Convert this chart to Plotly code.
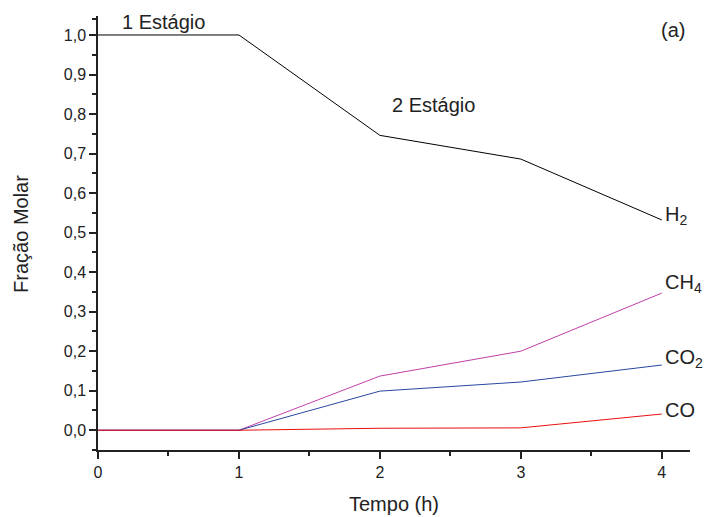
import plotly.graph_objects as go

tempo = [0, 1, 2, 3, 4]
h2 = [1.0, 1.0, 0.746, 0.686, 0.532]
ch4 = [0.0, 0.0, 0.137, 0.200, 0.347]
co2 = [0.0, 0.0, 0.099, 0.122, 0.165]
co = [0.0, 0.0, 0.005, 0.006, 0.041]

series = [
    ("H<sub>2</sub>", h2, "#000000", 4),
    ("CH<sub>4</sub>", ch4, "#c040a8", 10),
    ("CO<sub>2</sub>", co2, "#2848a0", 7),
    ("CO", co, "#e81010", 4),
]

FAM = "Liberation Sans"
TXT = "#222222"
font = dict(family=FAM, size=20, color=TXT)

fig = go.Figure()
for name, ys, color, _ in series:
    fig.add_trace(go.Scatter(x=tempo, y=ys, mode="lines", name=name,
                             line=dict(color=color, width=1), cliponaxis=False))

for name, ys, color, dy in series:
    fig.add_annotation(x=tempo[-1], y=ys[-1], text=name, showarrow=False,
                       xanchor="left", yanchor="middle", xshift=1, yshift=dy, font=font)

fig.add_annotation(x=0.155, y=1.033, text="1 Estágio", showarrow=False,
                   xanchor="left", yanchor="middle", font=font)
fig.add_annotation(x=2.07, y=0.823, text="2 Estágio", showarrow=False,
                   xanchor="left", yanchor="middle", font=font)
fig.add_annotation(x=4.18, y=1.013, text="(a)", showarrow=False,
                   xanchor="right", yanchor="middle", font=font)

fig.add_annotation(xref="paper", yref="paper", x=0.5, y=-0.124, text="Tempo (h)",
                   showarrow=False, xanchor="center", yanchor="middle", font=font)
fig.add_annotation(xref="paper", yref="paper", x=-0.130, y=0.498, text="Fração Molar",
                   showarrow=False, xanchor="center", yanchor="middle", textangle=-90,
                   font=font)

axis_common = dict(showline=True, linecolor=TXT, linewidth=1.5,
                   ticks="outside", tickcolor=TXT, tickwidth=1.5, ticklen=7,
                   showgrid=False, zeroline=False, mirror=False, automargin=False,
                   tickfont=dict(family=FAM, size=16, color=TXT))

fig.update_layout(
    width=707, height=517,
    margin=dict(l=98, r=17, t=16, b=67),
    paper_bgcolor="white", plot_bgcolor="white",
    showlegend=False,
    separators=",.",
    xaxis=dict(range=[0, 4.2], tickvals=[0, 1, 2, 3, 4],
               minor=dict(tickvals=[0.5, 1.5, 2.5, 3.5], ticks="outside", ticklen=4,
                          tickcolor=TXT, tickwidth=1.5),
               **axis_common),
    yaxis=dict(range=[-0.05, 1.048], tickvals=[0, 0.1, 0.2, 0.3, 0.4, 0.5, 0.6, 0.7, 0.8, 0.9, 1.0],
               tickformat=".1f",
               minor=dict(tickvals=[-0.05, 0.05, 0.15, 0.25, 0.35, 0.45, 0.55, 0.65, 0.75, 0.85, 0.95, 1.04],
                          ticks="outside", ticklen=4, tickcolor=TXT, tickwidth=1.5),
               **axis_common),
)

fig.write_html("out.html", config={"displayModeBar": False},
               post_script="document.body.style.margin='0px';")
